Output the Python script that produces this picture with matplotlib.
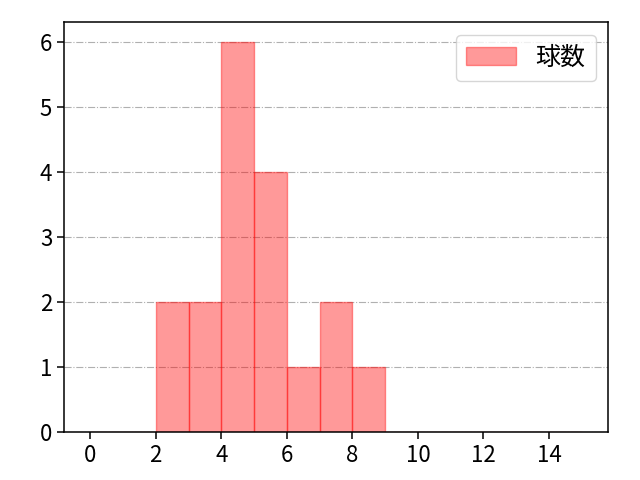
import matplotlib
matplotlib.use("Agg")
import matplotlib.pyplot as plt

plt.rcParams['font.family'] = ['Noto Sans CJK JP', 'DejaVu Sans']

# 球数ごとの回数
bin_edges = list(range(0, 16))
counts = [0, 0, 2, 2, 6, 4, 1, 2, 1, 0, 0, 0, 0, 0, 0]
label = '球数'

fig, ax = plt.subplots(figsize=(6.4, 4.8), dpi=100)
ax.hist(bin_edges[:-1], bins=bin_edges, weights=counts,
        color='red', alpha=0.4, edgecolor='red', linewidth=1, label=label)
ax.grid(axis='y', linestyle='-.', color='#b0b0b0', linewidth=0.8)
ax.set_axisbelow(True)
ax.set_xticks(range(0, 15, 2))
ax.set_xlim(-0.8, 15.8)
ax.tick_params(labelsize=16, width=1.1, length=5)
for s in ax.spines.values():
    s.set_linewidth(1.1)
ax.legend(loc='upper right', fontsize=18)
fig.subplots_adjust(left=0.1, right=0.95, top=0.954, bottom=0.1)
fig.savefig('out.png')
